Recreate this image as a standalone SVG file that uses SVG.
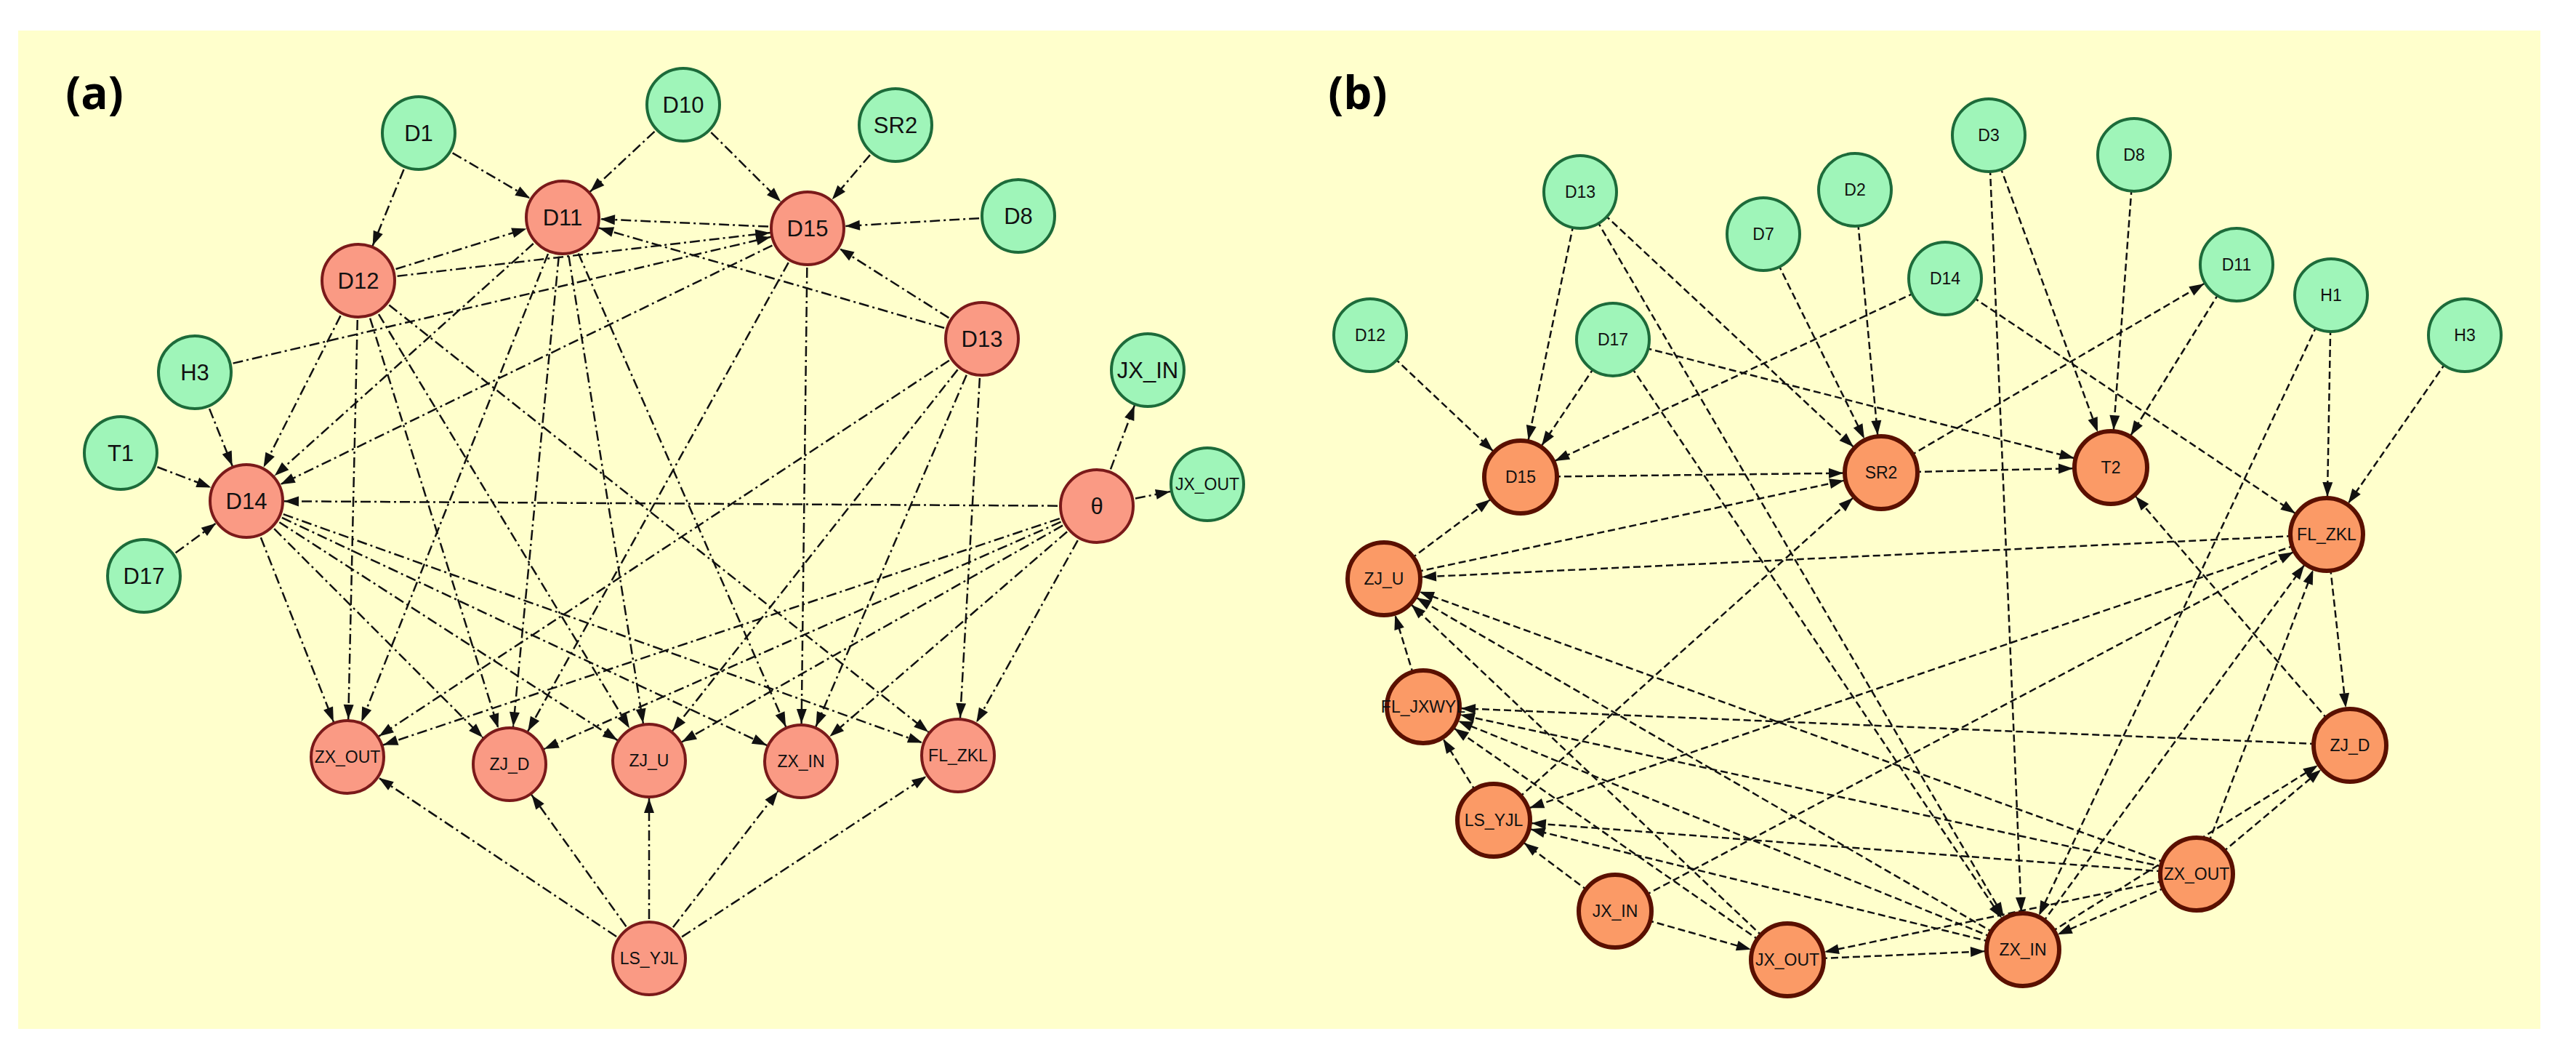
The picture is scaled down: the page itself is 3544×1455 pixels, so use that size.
<svg xmlns="http://www.w3.org/2000/svg" width="3544" height="1455" viewBox="0 0 3544 1455">
<style>
.bg{fill:#ffffcc}
.g{fill:#9ff5b9;stroke:#1d6b3a;stroke-width:4}
.r{fill:#fa9a84;stroke:#7a1a1a;stroke-width:4}
.o{fill:#fb9a66;stroke:#5a1000;stroke-width:6}
.t{font-family:"Liberation Sans",Arial,sans-serif;text-anchor:middle;dominant-baseline:central;fill:#111}
.big{font-size:31px}.sm{font-size:23px}
.ea line{stroke:#111;stroke-width:2.5;stroke-dasharray:14 5 3 5;marker-end:url(#ar)}
.eb line{stroke:#111;stroke-width:2.5;stroke-dasharray:10 5;marker-end:url(#ar)}
.lab{font-family:"Open Sans","Liberation Sans",sans-serif;font-weight:bold;font-size:62px}
</style>
<defs>
<marker id="ar" markerUnits="userSpaceOnUse" orient="auto" refX="0" refY="0" markerWidth="1" markerHeight="1" overflow="visible">
<path d="M-72,-7 L-52,0 L-72,7 z" fill="#111"/>
</marker>
</defs>
<rect class="bg" x="25" y="42" width="3470" height="1373"/>
<text class="lab" x="130" y="150" text-anchor="middle">(a)</text>
<text class="lab" x="1868" y="150" text-anchor="middle">(b)</text>
<g id="connectors-a" class="ea">
<line x1="576" y1="183" x2="774" y2="299"/>
<line x1="576" y1="183" x2="493" y2="386"/>
<line x1="940" y1="144" x2="774" y2="299"/>
<line x1="940" y1="144" x2="1111" y2="314"/>
<line x1="1232" y1="172" x2="1111" y2="314"/>
<line x1="1401" y1="297" x2="1111" y2="314"/>
<line x1="1111" y1="314" x2="774" y2="299"/>
<line x1="1351" y1="466" x2="774" y2="299"/>
<line x1="1351" y1="466" x2="1111" y2="314"/>
<line x1="493" y1="386" x2="774" y2="299"/>
<line x1="493" y1="386" x2="1111" y2="314"/>
<line x1="268" y1="512" x2="1111" y2="314"/>
<line x1="268" y1="512" x2="339" y2="689"/>
<line x1="166" y1="623" x2="339" y2="689"/>
<line x1="198" y1="792" x2="339" y2="689"/>
<line x1="493" y1="386" x2="339" y2="689"/>
<line x1="774" y1="299" x2="339" y2="689"/>
<line x1="1111" y1="314" x2="339" y2="689"/>
<line x1="1509" y1="696" x2="339" y2="689"/>
<line x1="1509" y1="696" x2="1579" y2="509"/>
<line x1="1509" y1="696" x2="1661" y2="666"/>
<line x1="339" y1="689" x2="478" y2="1041"/>
<line x1="339" y1="689" x2="701" y2="1051"/>
<line x1="339" y1="689" x2="893" y2="1046"/>
<line x1="339" y1="689" x2="1102" y2="1047"/>
<line x1="339" y1="689" x2="1318" y2="1039"/>
<line x1="493" y1="386" x2="478" y2="1041"/>
<line x1="493" y1="386" x2="701" y2="1051"/>
<line x1="493" y1="386" x2="893" y2="1046"/>
<line x1="493" y1="386" x2="1318" y2="1039"/>
<line x1="774" y1="299" x2="478" y2="1041"/>
<line x1="774" y1="299" x2="701" y2="1051"/>
<line x1="774" y1="299" x2="893" y2="1046"/>
<line x1="774" y1="299" x2="1102" y2="1047"/>
<line x1="1111" y1="314" x2="701" y2="1051"/>
<line x1="1111" y1="314" x2="1102" y2="1047"/>
<line x1="1351" y1="466" x2="478" y2="1041"/>
<line x1="1351" y1="466" x2="893" y2="1046"/>
<line x1="1351" y1="466" x2="1102" y2="1047"/>
<line x1="1351" y1="466" x2="1318" y2="1039"/>
<line x1="1509" y1="696" x2="478" y2="1041"/>
<line x1="1509" y1="696" x2="701" y2="1051"/>
<line x1="1509" y1="696" x2="893" y2="1046"/>
<line x1="1509" y1="696" x2="1102" y2="1047"/>
<line x1="1509" y1="696" x2="1318" y2="1039"/>
<line x1="893" y1="1318" x2="478" y2="1041"/>
<line x1="893" y1="1318" x2="701" y2="1051"/>
<line x1="893" y1="1318" x2="893" y2="1046"/>
<line x1="893" y1="1318" x2="1102" y2="1047"/>
<line x1="893" y1="1318" x2="1318" y2="1039"/>
</g>
<g id="connectors-b" class="eb">
<line x1="2174" y1="264" x2="2092" y2="656"/>
<line x1="2174" y1="264" x2="2588" y2="650"/>
<line x1="2174" y1="264" x2="2783" y2="1306"/>
<line x1="2219" y1="467" x2="2092" y2="656"/>
<line x1="2219" y1="467" x2="2904" y2="643"/>
<line x1="2219" y1="467" x2="2783" y2="1306"/>
<line x1="1885" y1="461" x2="2092" y2="656"/>
<line x1="2676" y1="383" x2="2092" y2="656"/>
<line x1="2676" y1="383" x2="3201" y2="735"/>
<line x1="2426" y1="322" x2="2588" y2="650"/>
<line x1="2552" y1="261" x2="2588" y2="650"/>
<line x1="2736" y1="186" x2="2904" y2="643"/>
<line x1="2736" y1="186" x2="2783" y2="1306"/>
<line x1="2936" y1="213" x2="2904" y2="643"/>
<line x1="3077" y1="364" x2="2904" y2="643"/>
<line x1="2588" y1="650" x2="3077" y2="364"/>
<line x1="3207" y1="406" x2="3201" y2="735"/>
<line x1="3207" y1="406" x2="2783" y2="1306"/>
<line x1="3391" y1="461" x2="3201" y2="735"/>
<line x1="2092" y1="656" x2="2588" y2="650"/>
<line x1="2588" y1="650" x2="2904" y2="643"/>
<line x1="1904" y1="796" x2="2092" y2="656"/>
<line x1="1904" y1="796" x2="2588" y2="650"/>
<line x1="3201" y1="735" x2="1904" y2="796"/>
<line x1="3201" y1="735" x2="3233" y2="1025"/>
<line x1="3201" y1="735" x2="2055" y2="1128"/>
<line x1="3233" y1="1025" x2="2904" y2="643"/>
<line x1="3233" y1="1025" x2="1958" y2="972"/>
<line x1="1958" y1="972" x2="1904" y2="796"/>
<line x1="2055" y1="1128" x2="1958" y2="972"/>
<line x1="2055" y1="1128" x2="2588" y2="650"/>
<line x1="2222" y1="1253" x2="2055" y2="1128"/>
<line x1="2222" y1="1253" x2="2459" y2="1320"/>
<line x1="2222" y1="1253" x2="3201" y2="735"/>
<line x1="2459" y1="1320" x2="2783" y2="1306"/>
<line x1="2459" y1="1320" x2="1904" y2="796"/>
<line x1="2459" y1="1320" x2="1958" y2="972"/>
<line x1="2783" y1="1306" x2="1904" y2="796"/>
<line x1="2783" y1="1306" x2="1958" y2="972"/>
<line x1="2783" y1="1306" x2="2055" y2="1128"/>
<line x1="2783" y1="1306" x2="3201" y2="735"/>
<line x1="2783" y1="1306" x2="3233" y2="1025"/>
<line x1="3022" y1="1202" x2="1904" y2="796"/>
<line x1="3022" y1="1202" x2="1958" y2="972"/>
<line x1="3022" y1="1202" x2="2055" y2="1128"/>
<line x1="3022" y1="1202" x2="2783" y2="1306"/>
<line x1="3022" y1="1202" x2="2459" y2="1320"/>
<line x1="3022" y1="1202" x2="3233" y2="1025"/>
<line x1="3022" y1="1202" x2="3201" y2="735"/>
</g>
<g id="a-D1"><circle class="g" cx="576" cy="183" r="50"/><text class="t big" x="576" y="183">D1</text></g>
<g id="a-D10"><circle class="g" cx="940" cy="144" r="50"/><text class="t big" x="940" y="144">D10</text></g>
<g id="a-SR2"><circle class="g" cx="1232" cy="172" r="50"/><text class="t big" x="1232" y="172">SR2</text></g>
<g id="a-D8"><circle class="g" cx="1401" cy="297" r="50"/><text class="t big" x="1401" y="297">D8</text></g>
<g id="a-D11"><circle class="r" cx="774" cy="299" r="50"/><text class="t big" x="774" y="299">D11</text></g>
<g id="a-D15"><circle class="r" cx="1111" cy="314" r="50"/><text class="t big" x="1111" y="314">D15</text></g>
<g id="a-D12"><circle class="r" cx="493" cy="386" r="50"/><text class="t big" x="493" y="386">D12</text></g>
<g id="a-D13"><circle class="r" cx="1351" cy="466" r="50"/><text class="t big" x="1351" y="466">D13</text></g>
<g id="a-H3"><circle class="g" cx="268" cy="512" r="50"/><text class="t big" x="268" y="512">H3</text></g>
<g id="a-JX_IN"><circle class="g" cx="1579" cy="509" r="50"/><text class="t big" x="1579" y="509" font-size="27">JX_IN</text></g>
<g id="a-T1"><circle class="g" cx="166" cy="623" r="50"/><text class="t big" x="166" y="623">T1</text></g>
<g id="a-D14"><circle class="r" cx="339" cy="689" r="50"/><text class="t big" x="339" y="689">D14</text></g>
<g id="a-theta"><circle class="r" cx="1509" cy="696" r="50"/><text class="t big" x="1509" y="696">θ</text></g>
<g id="a-JX_OUT"><circle class="g" cx="1661" cy="666" r="50"/><text class="t sm" x="1661" y="666">JX_OUT</text></g>
<g id="a-D17"><circle class="g" cx="198" cy="792" r="50"/><text class="t big" x="198" y="792">D17</text></g>
<g id="a-ZX_OUT"><circle class="r" cx="478" cy="1041" r="50"/><text class="t sm" x="478" y="1041">ZX_OUT</text></g>
<g id="a-ZJ_D"><circle class="r" cx="701" cy="1051" r="50"/><text class="t sm" x="701" y="1051">ZJ_D</text></g>
<g id="a-ZJ_U"><circle class="r" cx="893" cy="1046" r="50"/><text class="t sm" x="893" y="1046">ZJ_U</text></g>
<g id="a-ZX_IN"><circle class="r" cx="1102" cy="1047" r="50"/><text class="t sm" x="1102" y="1047">ZX_IN</text></g>
<g id="a-FL_ZKL"><circle class="r" cx="1318" cy="1039" r="50"/><text class="t sm" x="1318" y="1039">FL_ZKL</text></g>
<g id="a-LS_YJL"><circle class="r" cx="893" cy="1318" r="50"/><text class="t sm" x="893" y="1318">LS_YJL</text></g>
<g id="b-D13"><circle class="g" cx="2174" cy="264" r="50"/><text class="t sm" x="2174" y="264">D13</text></g>
<g id="b-D3"><circle class="g" cx="2736" cy="186" r="50"/><text class="t sm" x="2736" y="186">D3</text></g>
<g id="b-D8"><circle class="g" cx="2936" cy="213" r="50"/><text class="t sm" x="2936" y="213">D8</text></g>
<g id="b-D2"><circle class="g" cx="2552" cy="261" r="50"/><text class="t sm" x="2552" y="261">D2</text></g>
<g id="b-D7"><circle class="g" cx="2426" cy="322" r="50"/><text class="t sm" x="2426" y="322">D7</text></g>
<g id="b-D14"><circle class="g" cx="2676" cy="383" r="50"/><text class="t sm" x="2676" y="383">D14</text></g>
<g id="b-D11"><circle class="g" cx="3077" cy="364" r="50"/><text class="t sm" x="3077" y="364">D11</text></g>
<g id="b-H1"><circle class="g" cx="3207" cy="406" r="50"/><text class="t sm" x="3207" y="406">H1</text></g>
<g id="b-H3"><circle class="g" cx="3391" cy="461" r="50"/><text class="t sm" x="3391" y="461">H3</text></g>
<g id="b-D12"><circle class="g" cx="1885" cy="461" r="50"/><text class="t sm" x="1885" y="461">D12</text></g>
<g id="b-D17"><circle class="g" cx="2219" cy="467" r="50"/><text class="t sm" x="2219" y="467">D17</text></g>
<g id="b-D15"><circle class="o" cx="2092" cy="656" r="50"/><text class="t sm" x="2092" y="656">D15</text></g>
<g id="b-SR2"><circle class="o" cx="2588" cy="650" r="50"/><text class="t sm" x="2588" y="650">SR2</text></g>
<g id="b-T2"><circle class="o" cx="2904" cy="643" r="50"/><text class="t sm" x="2904" y="643">T2</text></g>
<g id="b-FL_ZKL"><circle class="o" cx="3201" cy="735" r="50"/><text class="t sm" x="3201" y="735">FL_ZKL</text></g>
<g id="b-ZJ_U"><circle class="o" cx="1904" cy="796" r="50"/><text class="t sm" x="1904" y="796">ZJ_U</text></g>
<g id="b-FL_JXWYL"><circle class="o" cx="1958" cy="972" r="50"/><text class="t sm" x="1958" y="972">FL_JXWYL</text></g>
<g id="b-ZJ_D"><circle class="o" cx="3233" cy="1025" r="50"/><text class="t sm" x="3233" y="1025">ZJ_D</text></g>
<g id="b-LS_YJL"><circle class="o" cx="2055" cy="1128" r="50"/><text class="t sm" x="2055" y="1128">LS_YJL</text></g>
<g id="b-ZX_OUT"><circle class="o" cx="3022" cy="1202" r="50"/><text class="t sm" x="3022" y="1202">ZX_OUT</text></g>
<g id="b-JX_IN"><circle class="o" cx="2222" cy="1253" r="50"/><text class="t sm" x="2222" y="1253">JX_IN</text></g>
<g id="b-JX_OUT"><circle class="o" cx="2459" cy="1320" r="50"/><text class="t sm" x="2459" y="1320">JX_OUT</text></g>
<g id="b-ZX_IN"><circle class="o" cx="2783" cy="1306" r="50"/><text class="t sm" x="2783" y="1306">ZX_IN</text></g>
</svg>
